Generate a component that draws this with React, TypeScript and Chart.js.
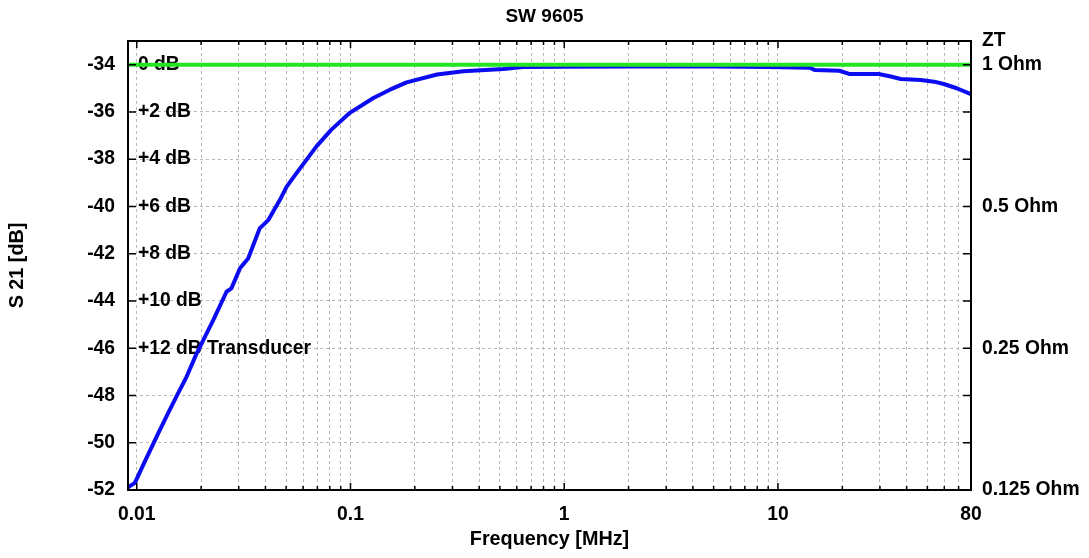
import React, { useEffect, useRef } from "react";
import { Chart, registerables } from "chart.js";

Chart.register(...registerables);

// ---- data ----
const freqMHz = [
  0.0091, 0.0098, 0.0109, 0.0126, 0.014, 0.0156, 0.0171, 0.019, 0.0216, 0.0228,
  0.0263, 0.0277, 0.0304, 0.0332, 0.0376, 0.0412, 0.0467, 0.0502, 0.0558, 0.0693,
  0.0814, 0.0993, 0.128, 0.153, 0.183, 0.254, 0.337, 0.519, 0.641, 1.0,
  2.0, 5.0, 9.0, 14.1, 14.9, 19.4, 21.7, 29.6, 32.9, 37.6,
  46.6, 53.8, 59.7, 68.6, 80,
];
const s21dB = [
  -51.89, -51.7, -50.8, -49.6, -48.76, -47.91, -47.21, -46.25, -45.23, -44.81,
  -43.61, -43.47, -42.62, -42.2, -40.93, -40.58, -39.73, -39.17, -38.6, -37.46,
  -36.75, -36.04, -35.41, -35.06, -34.75, -34.42, -34.28, -34.18, -34.1, -34.09,
  -34.08, -34.08, -34.1, -34.13, -34.23, -34.26, -34.4, -34.4, -34.48, -34.61,
  -34.65, -34.72, -34.82, -35.0, -35.25,
];
const refFreq = [0.0091, 80];
const refLevel = [-34, -34];

const xGridTicks = [
  0.01, 0.02, 0.03, 0.04, 0.05, 0.06, 0.07, 0.08, 0.09,
  0.1, 0.2, 0.3, 0.4, 0.5, 0.6, 0.7, 0.8, 0.9,
  1, 2, 3, 4, 5, 6, 7, 8, 9,
  10, 20, 30, 40, 50, 60, 70, 80,
];
const xLabelTicks = [0.01, 0.1, 1, 10, 80];
const yTicks = [-52, -50, -48, -46, -44, -42, -40, -38, -36, -34];
const transducerPos = [-34, -36, -38, -40, -42, -44, -46];
const transducerLabels = ["0 dB", "+2 dB", "+4 dB", "+6 dB", "+8 dB", "+10 dB", "+12 dB Transducer"];
const ztTicks = [-52, -46, -40, -34, -33];
const ztLabels = ["0.125 Ohm", "0.25 Ohm", "0.5 Ohm", "1 Ohm", "ZT"];

const FAMILY = '"Liberation Sans", Arial, Helvetica, sans-serif';
const GRID = "#b8b8b8";
const TICK_SIZE = 19.3;
const AXIS_TITLE_SIZE = 19.8;

const framePlugin = {
  id: "frameAndInner",
  beforeDatasetsDraw(chart: any) {
    const { ctx, chartArea } = chart;
    const y = chart.scales.y;
    ctx.save();
    ctx.fillStyle = "#000";
    ctx.font = `bold ${TICK_SIZE}px ${FAMILY}`;
    ctx.textAlign = "left";
    ctx.textBaseline = "middle";
    transducerPos.forEach((v, i) => {
      ctx.fillText(transducerLabels[i], chartArea.left + 10, y.getPixelForValue(v));
    });
    ctx.restore();
  },
  afterDatasetsDraw(chart: any) {
    const { ctx, chartArea } = chart;
    const { left, right, top, bottom } = chartArea;
    const x = chart.scales.x;
    const y = chart.scales.y;
    ctx.save();
    ctx.strokeStyle = "#000";
    ctx.lineWidth = 1.5;
    ctx.beginPath();
    yTicks.forEach((v) => {
      const py = y.getPixelForValue(v);
      ctx.moveTo(left, py);
      ctx.lineTo(left + 8, py);
      ctx.moveTo(right, py);
      ctx.lineTo(right - 8, py);
    });
    xGridTicks.forEach((v) => {
      const px = x.getPixelForValue(v);
      const len = xLabelTicks.includes(v) ? 7 : 4;
      ctx.moveTo(px, top);
      ctx.lineTo(px, top + len);
      ctx.moveTo(px, bottom);
      ctx.lineTo(px, bottom - len);
    });
    ctx.stroke();
    ctx.lineWidth = 2;
    ctx.strokeRect(left, top, right - left, bottom - top);
    ctx.restore();
  },
};

export default function App() {
  const ref = useRef<HTMLCanvasElement>(null);

  useEffect(() => {
    document.body.style.margin = "0";
    const tickFont = { family: FAMILY, size: TICK_SIZE, weight: "bold" as const };
    const axisTitleFont = { family: FAMILY, size: AXIS_TITLE_SIZE, weight: "bold" as const };
    const titleFont = { family: FAMILY, size: 19, weight: "bold" as const };
    const chart = new Chart(ref.current as HTMLCanvasElement, {
      type: "line",
      data: {
        datasets: [
          {
            label: "Reference",
            data: refFreq.map((f, i) => ({ x: f, y: refLevel[i] })),
            borderColor: "#22e622",
            borderWidth: 4,
            pointRadius: 0,
            tension: 0,
          },
          {
            label: "S21",
            data: freqMHz.map((f, i) => ({ x: f, y: s21dB[i] })),
            borderColor: "#0c0cf0",
            borderWidth: 4,
            borderJoinStyle: "round",
            borderCapStyle: "round",
            pointRadius: 0,
            tension: 0,
          },
        ],
      },
      options: {
        animation: false,
        responsive: false,
        events: [],
        layout: { padding: 0 },
        plugins: {
          legend: { display: false },
          tooltip: { enabled: false },
          title: {
            display: true,
            text: "SW 9605",
            color: "#000",
            font: titleFont,
            padding: { top: 5.6, bottom: 12.6 },
          },
        },
        scales: {
          x: {
            type: "logarithmic",
            position: "bottom",
            min: 0.0091,
            max: 80,
            afterBuildTicks: (s: any) => {
              s.ticks = xGridTicks.map((v) => ({ value: v, major: xLabelTicks.includes(v) }));
            },
            afterFit: (s: any) => {
              s.height = 68;
            },
            ticks: {
              autoSkip: false,
              maxRotation: 0,
              minRotation: 0,
              padding: 13.4,
              color: "#000",
              font: tickFont,
              callback: (v: any) => (xLabelTicks.includes(Number(v)) ? String(v) : ""),
            },
            grid: { color: GRID, lineWidth: 1, drawTicks: false },
            border: { display: false, dash: [3, 3] },
            title: {
              display: true,
              text: "Frequency [MHz]",
              color: "#000",
              font: axisTitleFont,
              padding: { top: 0, bottom: 6.1 },
            },
          },
          y: {
            type: "linear",
            position: "left",
            min: -52,
            max: -33,
            afterBuildTicks: (s: any) => {
              s.ticks = yTicks.map((v) => ({ value: v }));
            },
            afterFit: (s: any) => {
              s.width = 128;
            },
            ticks: {
              padding: 13,
              color: "#000",
              font: tickFont,
              callback: (v: any) => String(v),
            },
            grid: { color: GRID, lineWidth: 1, drawTicks: false },
            border: { display: false, dash: [3, 3] },
            title: {
              display: true,
              text: "S 21 [dB]",
              color: "#000",
              font: axisTitleFont,
              padding: { top: 6.1, bottom: 0 },
            },
          },
          y2: {
            type: "linear",
            position: "right",
            min: -52,
            max: -33,
            afterBuildTicks: (s: any) => {
              s.ticks = ztTicks.map((v) => ({ value: v }));
            },
            afterFit: (s: any) => {
              s.width = 118;
            },
            ticks: {
              padding: 11,
              color: "#000",
              font: tickFont,
              callback: (v: any) => {
                const i = ztTicks.indexOf(Number(v));
                return i >= 0 ? ztLabels[i] : "";
              },
            },
            grid: { display: false, drawTicks: false },
            border: { display: false },
          },
        },
      },
      plugins: [framePlugin],
    });
    return () => chart.destroy();
  }, []);

  return (
    <div style={{ width: 1089, height: 558 }}>
      <canvas ref={ref} width={1089} height={558} style={{ display: "block" }} />
    </div>
  );
}
